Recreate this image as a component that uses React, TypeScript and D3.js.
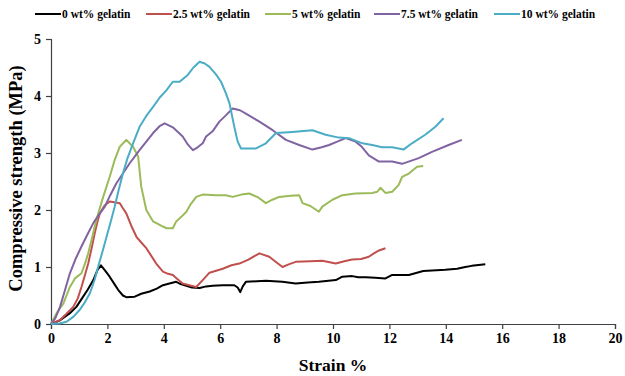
import React, { useEffect, useRef } from 'react';
import * as d3 from 'd3';

type Pt = [number, number];

const seriesNames = ['0 wt% gelatin', '2.5 wt% gelatin', '5 wt% gelatin', '7.5 wt% gelatin', '10 wt% gelatin'];
const seriesColors = ['#000000', '#c0504d', '#9bbb59', '#8064a2', '#4bacc6'];

const gel0: Pt[] = [
  [0, 0], [0.3, 0.06], [0.67, 0.19], [0.9, 0.3], [1.14, 0.48], [1.3, 0.6], [1.5, 0.77], [1.65, 0.95], [1.77, 1.03],
  [1.9, 0.95], [2.08, 0.83], [2.25, 0.7], [2.38, 0.6], [2.55, 0.5], [2.67, 0.47], [2.97, 0.48], [3.2, 0.53],
  [3.5, 0.57], [3.75, 0.62], [3.97, 0.68], [4.2, 0.71], [4.44, 0.74], [4.6, 0.7], [4.8, 0.67], [5.0, 0.64],
  [5.27, 0.63], [5.5, 0.66], [5.73, 0.67], [6.09, 0.68], [6.5, 0.68], [6.62, 0.64], [6.71, 0.56], [6.8, 0.66],
  [6.91, 0.74], [7.3, 0.75], [7.62, 0.76], [8.2, 0.74], [8.68, 0.71], [9.1, 0.73], [9.5, 0.74], [10.1, 0.77],
  [10.33, 0.83], [10.68, 0.84], [10.9, 0.82], [11.16, 0.82], [11.5, 0.81], [11.86, 0.8], [12.1, 0.86],
  [12.69, 0.86], [13.2, 0.93], [13.98, 0.95], [14.4, 0.97], [14.69, 1.0], [14.92, 1.02], [15.4, 1.05],
];

const gel25: Pt[] = [
  [0, 0], [0.32, 0.07], [0.55, 0.18], [0.79, 0.3], [0.95, 0.45], [1.08, 0.65], [1.2, 0.85], [1.32, 1.06],
  [1.45, 1.35], [1.55, 1.59], [1.65, 1.8], [1.73, 1.94], [1.9, 2.08], [2.08, 2.15], [2.3, 2.13], [2.44, 2.12],
  [2.55, 2.03], [2.67, 1.94], [2.85, 1.72], [3.03, 1.53], [3.2, 1.43], [3.38, 1.33], [3.55, 1.2], [3.73, 1.06],
  [3.97, 0.92], [4.15, 0.88], [4.32, 0.86], [4.5, 0.78], [4.67, 0.71], [4.9, 0.68], [5.15, 0.65], [5.38, 0.77],
  [5.62, 0.9], [6.09, 0.97], [6.4, 1.03], [6.68, 1.06], [7.0, 1.13], [7.39, 1.24], [7.74, 1.18], [8.0, 1.08],
  [8.21, 1.0], [8.45, 1.05], [8.68, 1.09], [9.2, 1.1], [9.62, 1.11], [10.1, 1.06], [10.4, 1.1], [10.68, 1.13],
  [11.0, 1.14], [11.27, 1.18], [11.45, 1.24], [11.63, 1.29], [11.86, 1.33],
];

const gel5: Pt[] = [
  [0, 0], [0.2, 0.19], [0.44, 0.36], [0.55, 0.5], [0.67, 0.65], [0.85, 0.8], [1.08, 0.89], [1.2, 1.05],
  [1.32, 1.24], [1.45, 1.5], [1.55, 1.71], [1.7, 1.98], [1.85, 2.23], [2.08, 2.58], [2.26, 2.88], [2.44, 3.11],
  [2.67, 3.23], [2.91, 3.11], [3.09, 2.94], [3.2, 2.41], [3.38, 2.0], [3.62, 1.8], [3.97, 1.71], [4.1, 1.68],
  [4.32, 1.68], [4.44, 1.8], [4.62, 1.88], [4.8, 1.97], [4.95, 2.1], [5.15, 2.23], [5.38, 2.27], [5.85, 2.26],
  [6.2, 2.26], [6.44, 2.23], [6.75, 2.27], [7.03, 2.29], [7.35, 2.22], [7.62, 2.12], [7.85, 2.18], [8.09, 2.23],
  [8.5, 2.25], [8.8, 2.26], [8.92, 2.12], [9.2, 2.07], [9.5, 1.97], [9.62, 2.06], [9.98, 2.18], [10.33, 2.26],
  [10.8, 2.29], [11.39, 2.3], [11.57, 2.32], [11.68, 2.39], [11.86, 2.3], [12.1, 2.32], [12.33, 2.44],
  [12.45, 2.58], [12.69, 2.64], [12.98, 2.76], [13.2, 2.77],
];

const gel75: Pt[] = [
  [0, 0], [0.15, 0.1], [0.32, 0.3], [0.5, 0.6], [0.67, 0.89], [0.88, 1.15], [1.08, 1.36], [1.3, 1.58],
  [1.5, 1.77], [1.7, 1.92], [1.91, 2.06], [2.1, 2.26], [2.32, 2.47], [2.55, 2.64], [2.79, 2.82], [3.14, 3.05],
  [3.38, 3.2], [3.62, 3.35], [3.85, 3.47], [4.03, 3.52], [4.32, 3.45], [4.67, 3.29], [4.85, 3.15], [5.03, 3.05],
  [5.2, 3.1], [5.38, 3.17], [5.5, 3.29], [5.73, 3.38], [5.97, 3.55], [6.2, 3.66], [6.44, 3.78], [6.7, 3.75],
  [6.91, 3.69], [7.15, 3.62], [7.39, 3.55], [7.86, 3.4], [8.33, 3.23], [8.8, 3.14], [9.27, 3.06], [9.6, 3.1],
  [9.86, 3.14], [10.15, 3.2], [10.45, 3.26], [10.8, 3.2], [11.0, 3.12], [11.27, 2.96], [11.63, 2.85],
  [12.1, 2.85], [12.45, 2.81], [13.04, 2.91], [13.51, 3.02], [14.1, 3.14], [14.57, 3.23],
];

const gel10: Pt[] = [
  [0, 0], [0.3, 0.01], [0.55, 0.04], [0.8, 0.13], [1.02, 0.25], [1.2, 0.38], [1.38, 0.54], [1.55, 0.78],
  [1.67, 1.0], [1.82, 1.26], [1.97, 1.53], [2.12, 1.8], [2.26, 2.06], [2.4, 2.35], [2.55, 2.64], [2.72, 2.92],
  [2.91, 3.17], [3.14, 3.46], [3.38, 3.65], [3.62, 3.81], [3.85, 3.97], [4.09, 4.1], [4.32, 4.25], [4.56, 4.25],
  [4.85, 4.37], [5.05, 4.5], [5.27, 4.6], [5.45, 4.57], [5.62, 4.51], [5.85, 4.38], [6.03, 4.25], [6.2, 4.05],
  [6.33, 3.87], [6.5, 3.46], [6.62, 3.2], [6.74, 3.08], [7.27, 3.08], [7.62, 3.17], [7.98, 3.35], [8.56, 3.37],
  [9.27, 3.4], [9.74, 3.32], [10.21, 3.27], [10.57, 3.26], [11.04, 3.17], [11.39, 3.14], [11.74, 3.1],
  [12.1, 3.1], [12.5, 3.06], [12.8, 3.17], [13.27, 3.32], [13.63, 3.46], [13.92, 3.61],
];

const allSeries = [gel0, gel25, gel5, gel75, gel10];
const xTicks = [0, 2, 4, 6, 8, 10, 12, 14, 16, 18, 20];
const yTicks = [0, 1, 2, 3, 4, 5];

const W = 625;
const H = 376;
const margin = { top: 39, right: 10, bottom: 52, left: 51 };
const font = '"Liberation Serif", "Times New Roman", serif';

const App = () => {
  const svgRef = useRef<SVGSVGElement>(null);

  useEffect(() => {
    const svg = d3.select(svgRef.current);
    svg.selectAll('*').remove();

    const innerW = W - margin.left - margin.right;
    const innerH = H - margin.top - margin.bottom;

    const x = d3.scaleLinear().domain([0, 20]).range([0, innerW]);
    const y = d3.scaleLinear().domain([0, 5]).range([innerH, 0]);

    const g = svg.append('g').attr('transform', `translate(${margin.left},${margin.top})`);

    // axes
    const xAxis = g.append('g')
      .attr('transform', `translate(0,${innerH})`)
      .call(d3.axisBottom(x).tickValues(xTicks).tickSize(5).tickPadding(4).tickFormat(d3.format('d')));
    const yAxis = g.append('g')
      .call(d3.axisLeft(y).tickValues(yTicks).tickSize(5).tickPadding(5).tickFormat(d3.format('d')));

    [xAxis, yAxis].forEach(a => {
      a.select('.domain').attr('stroke', '#404040').attr('stroke-width', 1.2);
      a.selectAll('.tick line').attr('stroke', '#404040').attr('stroke-width', 1.2);
      a.selectAll('.tick text')
        .attr('fill', '#000')
        .style('font-family', font)
        .style('font-size', '14px')
        .style('font-weight', 'bold');
    });

    // lines
    const line = d3.line<Pt>().x(d => x(d[0])).y(d => y(d[1]));
    allSeries.forEach((s, i) => {
      g.append('path')
        .datum(s)
        .attr('fill', 'none')
        .attr('stroke', seriesColors[i])
        .attr('stroke-width', 2)
        .attr('stroke-linejoin', 'round')
        .attr('d', line);
    });

    // axis titles
    svg.append('text')
      .attr('x', margin.left + innerW / 2)
      .attr('y', 371)
      .attr('text-anchor', 'middle')
      .style('font-family', font)
      .style('font-size', '17.5px')
      .style('font-weight', 'bold')
      .text('Strain %');

    svg.append('text')
      .attr('transform', `translate(22,${margin.top + innerH / 2 - 3}) rotate(-90)`)
      .attr('text-anchor', 'middle')
      .style('font-family', font)
      .style('font-size', '18.5px')
      .style('font-weight', 'bold')
      .text('Compressive strength (MPa)');

    // legend
    const legendX = [35, 146, 265, 374, 494];
    const leg = svg.append('g').attr('transform', 'translate(0,14)');
    seriesNames.forEach((name, i) => {
      const item = leg.append('g').attr('transform', `translate(${legendX[i]},0)`);
      item.append('line')
        .attr('x1', 0).attr('x2', 26)
        .attr('y1', 0).attr('y2', 0)
        .attr('stroke', seriesColors[i])
        .attr('stroke-width', 2);
      item.append('text')
        .attr('x', 27)
        .attr('y', 4)
        .style('font-family', font)
        .style('font-size', '11.5px')
        .style('font-weight', 'bold')
        .text(name);
    });
  }, []);

  return (
    <svg
      ref={svgRef}
      width={W}
      height={H}
      style={{ position: 'absolute', left: 0, top: 0, background: '#fff' }}
    />
  );
};

export default App;
